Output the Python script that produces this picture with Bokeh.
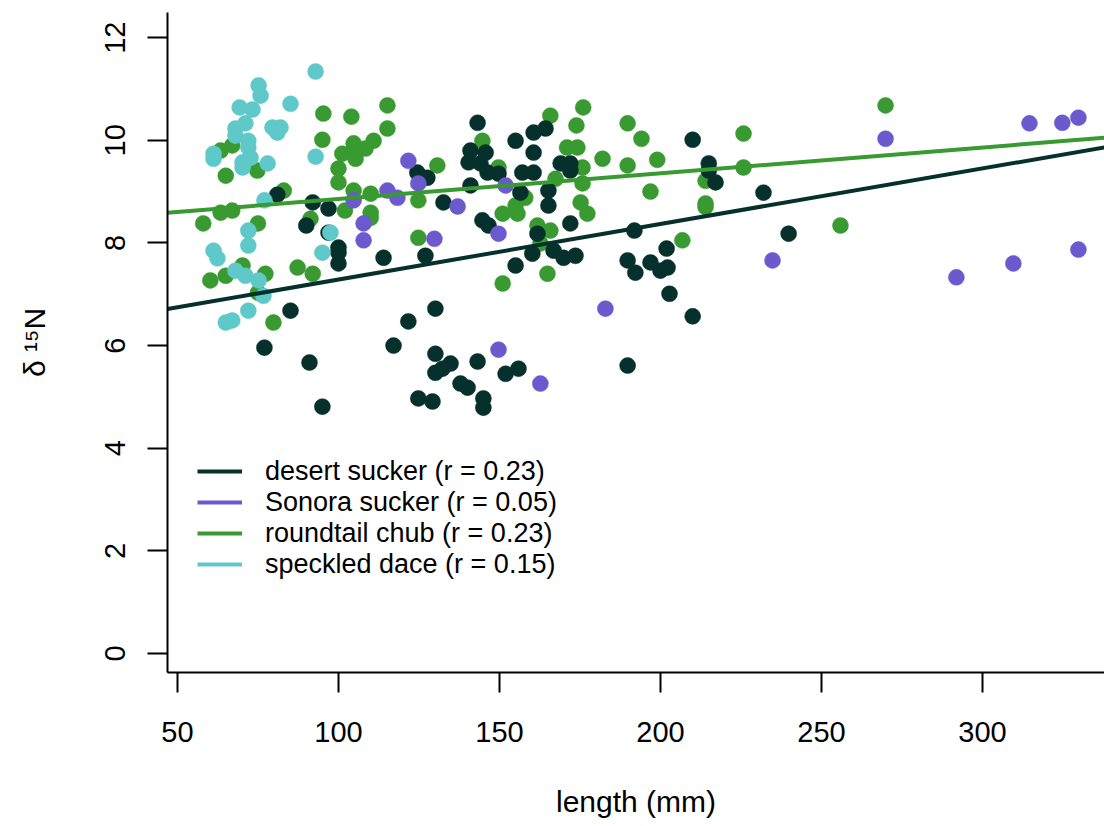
import numpy as np
from bokeh.plotting import figure
from bokeh.models import Range1d, Legend, LegendItem, FixedTicker
from bokeh.embed import file_html
from bokeh.resources import INLINE

# ---------------- data ----------------
species = ["desert sucker", "Sonora sucker", "roundtail chub", "speckled dace"]
r_values = ["0.23", "0.05", "0.23", "0.15"]
colors = ["#06302B", "#6A5ACD", "#389A30", "#5FC8C8"]

desert_len = [81, 92, 96.9, 90, 96.9, 100, 100, 100, 85.1, 77, 91, 95,
              143.2, 155, 160.6, 160.6, 141, 145.7, 140.4, 144.1, 146.3, 149.7, 157.1, 160.6,
              156.5, 124.5, 127.6, 141, 132.6, 144.7, 146.6, 160.2, 155, 127, 114, 161.8,
              130.1, 121.7, 117.1, 130.1, 134.8, 130.1, 132.3, 143.2, 137.9, 140.1, 151.9,
              155.9, 124.8, 129.2, 145, 145,
              164.3, 165.2, 165.2, 169, 172, 172, 172, 166.8, 169.9, 173.6,
              210, 215, 215, 217.1, 232, 239.8, 191.9, 189.8, 192.2, 196.9, 201.9, 200,
              202.2, 202.8, 210, 189.8]
desert_n15 = [8.94, 8.79, 8.67, 8.34, 8.2, 7.91, 7.81, 7.6, 6.68, 5.96, 5.67, 4.81,
              10.34, 9.99, 10.15, 9.76, 9.8, 9.76, 9.57, 9.55, 9.37, 9.35, 9.37, 9.37,
              8.98, 9.37, 9.27, 9.12, 8.79, 8.44, 8.34, 7.79, 7.56, 7.75, 7.71, 8.18,
              6.72, 6.47, 6.0, 5.84, 5.65, 5.47, 5.55, 5.69, 5.26, 5.18, 5.45,
              5.55, 4.97, 4.91, 4.97, 4.79,
              10.23, 9.02, 8.73, 9.55, 9.55, 9.41, 8.38, 7.85, 7.71, 7.75,
              10.01, 9.55, 9.41, 9.18, 8.98, 8.18, 8.24, 7.66, 7.42, 7.62, 7.89, 7.46,
              7.52, 7.01, 6.57, 5.61]

sonora_len = [121.7, 124.8, 104.7, 115.2, 118.3, 107.8, 107.8, 129.8, 137, 151.9, 149.7,
              149.7, 162.7, 182.9, 234.8, 269.9, 291.9, 309.6, 314.6, 324.8, 329.8, 329.8]
sonora_n15 = [9.6, 9.16, 8.83, 9.02, 8.88, 8.38, 8.05, 8.08, 8.71, 9.12, 8.18,
              5.92, 5.26, 6.72, 7.66, 10.03, 7.33, 7.6, 10.33, 10.34, 10.44, 7.87]

chub_len = [95.3, 104, 95, 101.2, 104.7, 100, 100, 104.7, 63.4, 67, 65, 74.8, 83, 63.4, 67,
            58, 75, 91.3, 102, 60.2, 65, 70.2, 77.3, 75, 87.3, 92, 79.8,
            115.2, 115.2, 110.9, 104.7, 108.4, 105.3, 130.7, 110, 110, 110, 124.8, 124.8,
            144.7, 149.7, 151, 155, 155.6, 151, 158, 161.8,
            165.8, 176, 173.9, 171, 174.2, 175.8, 167.4, 175.8, 175.2, 177.3, 165.8, 162.7,
            164.9, 182, 189.8, 194.1, 189.8, 199, 196.9, 206.8, 214, 214, 214,
            225.8, 225.8, 269.9, 255.9]
chub_n15 = [10.52, 10.46, 10.01, 9.74, 9.8, 9.45, 9.18, 9.02, 9.8, 9.9, 9.31, 9.41, 9.02, 8.59, 8.63,
            8.38, 8.38, 8.47, 8.63, 7.27, 7.36, 7.56, 7.4, 7.03, 7.52, 7.4, 6.45,
            10.68, 10.23, 9.99, 9.94, 9.84, 9.64, 9.51, 8.96, 8.59, 8.49, 8.83, 8.1,
            9.99, 9.47, 8.57, 8.73, 8.57, 7.21, 8.88, 8.34,
            10.48, 10.64, 10.29, 9.86, 9.86, 9.47, 9.25, 9.16, 8.79, 8.57, 8.24, 7.99,
            7.4, 9.64, 10.33, 10.03, 9.51, 9.62, 9.0, 8.05, 9.21, 8.77, 8.7,
            10.13, 9.47, 10.68, 8.34]

dace_len = [92.9, 75.2, 75.8, 69.3, 73.3, 85.1, 71.1, 68, 79.5, 82, 81, 68, 72, 72, 61.2, 61.2,
            92.9, 70.2, 72.7, 78, 70.2, 77, 97.5, 72, 72, 61.2, 62.4, 95, 68, 71.1, 75.2, 76.7,
            72, 67, 65]
dace_n15 = [11.34, 11.07, 10.87, 10.64, 10.6, 10.71, 10.33, 10.23, 10.25, 10.25, 10.15, 10.09,
            9.99, 9.86, 9.74, 9.64, 9.68, 9.57, 9.66, 9.55, 9.47, 8.83, 8.2, 8.24, 7.95, 7.85,
            7.7, 7.81, 7.46, 7.36, 7.27, 6.97, 6.68, 6.49, 6.45]

# fitted regression lines (intercept, slope); None = not drawn
fit_intercept = [6.205, None, 8.353, None]
fit_slope = [0.01082, None, 0.00502, None]

x_ticks = [50, 100, 150, 200, 250, 300]
y_ticks = [0, 2, 4, 6, 8, 10, 12]

# ---------------- figure ----------------
x_lo, x_hi = 46.9, 337.9
y_lo, y_hi = -0.37, 12.49

p = figure(width=1104, height=826, output_backend="svg", toolbar_location=None,
           x_range=Range1d(x_lo, x_hi), y_range=Range1d(y_lo, y_hi),
           min_border_left=167, min_border_right=0, min_border_top=12, min_border_bottom=154)
p.outline_line_color = None
p.background_fill_color = "white"
p.border_fill_color = "white"
p.grid.visible = False

FONT = "Liberation Sans"
for ax in (p.xaxis[0], p.yaxis[0]):
    ax.axis_line_width = 2
    ax.axis_line_color = "black"
    ax.major_tick_line_width = 2
    ax.major_tick_line_color = "black"
    ax.major_tick_in = 0
    ax.major_tick_out = 20
    ax.minor_tick_line_color = None
    ax.major_label_text_font = FONT
    ax.major_label_text_font_size = "29px"
    ax.major_label_text_color = "black"
    ax.axis_label_text_font = FONT
    ax.axis_label_text_font_size = "30px"
    ax.axis_label_text_font_style = "normal"
    ax.axis_label_text_color = "black"

p.xaxis.ticker = FixedTicker(ticks=x_ticks)
p.yaxis.ticker = FixedTicker(ticks=y_ticks)
p.xaxis.major_label_standoff = 29
p.yaxis.major_label_standoff = 22
p.yaxis.major_label_orientation = "vertical"
p.xaxis.axis_label = "length (mm)"
p.yaxis.axis_label = "δ ¹⁵N"
p.xaxis.axis_label_standoff = 40
p.yaxis.axis_label_standoff = 52

# points
point_sets = {
    "roundtail chub": (chub_len, chub_n15),
    "desert sucker": (desert_len, desert_n15),
    "Sonora sucker": (sonora_len, sonora_n15),
    "speckled dace": (dace_len, dace_n15),
}
for name, (xs, ys) in point_sets.items():
    c = colors[species.index(name)]
    p.scatter(x=xs, y=ys, size=16, fill_color=c, line_color=c, line_width=0.5)

# regression lines + one legend row per species
row_offsets = [181, 150, 119, 88]   # legend row positions above the frame bottom (px)
for i, name in enumerate(species):
    if fit_intercept[i] is not None:
        xs = np.array([x_lo, x_hi])
        ys = fit_intercept[i] + fit_slope[i] * xs
    else:
        # no fitted line drawn; a single missing point keeps the legend swatch
        xs = np.array([np.nan])
        ys = np.array([np.nan])
    r = p.line(x=xs, y=ys, line_color=colors[i], line_width=4)
    leg = Legend(items=[LegendItem(label=f"{name} (r = {r_values[i]})", renderers=[r])],
                 location=(30, row_offsets[i]), orientation="vertical",
                 label_text_font=FONT, label_text_font_size="27px", label_text_color="black",
                 glyph_width=45, glyph_height=40, label_height=40, label_standoff=23,
                 spacing=0, padding=0, margin=0,
                 border_line_color=None, background_fill_alpha=0)
    p.add_layout(leg, "center")

open("out.html", "w").write(file_html(p, INLINE))
